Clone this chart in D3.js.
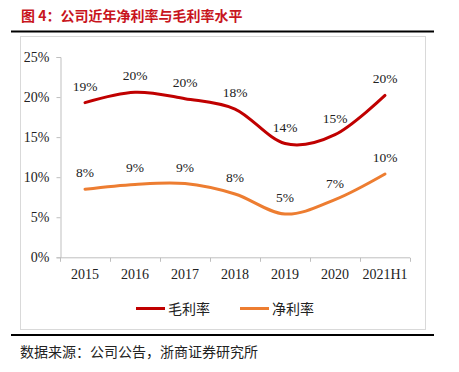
<!DOCTYPE html>
<html>
<head>
<meta charset="utf-8">
<script src="https://cdn.jsdelivr.net/npm/d3@7"></script>
<style>
  body { margin: 0; background: #fff; }
  svg { display: block; }
</style>
</head>
<body>
<div id="chart"></div>
<script>
const years = ["2015", "2016", "2017", "2018", "2019", "2020", "2021H1"];
const grossMargin = [19.3, 20.6, 19.8, 18.5, 14.2, 15.3, 20.2];
const netMargin = [8.5, 9.1, 9.2, 7.9, 5.4, 7.2, 10.4];
const grossLabels = ["19%", "20%", "20%", "18%", "14%", "15%", "20%"];
const netLabels = ["8%", "9%", "9%", "8%", "5%", "7%", "10%"];
const yTicks = [0, 5, 10, 15, 20, 25];

const W = 459, H = 372;
const serif = '"Liberation Serif", "Times New Roman", serif';
const cjk = '"Noto Sans CJK SC", sans-serif';
const red = "#c00000", orange = "#ed7d31", axisCol = "#bfbfbf";

const svg = d3.select("#chart").append("svg")
    .attr("width", W)
    .attr("height", H);

// title + rules
svg.append("text")
    .attr("x", 21).attr("y", 21)
    .attr("fill", "#c8151d")
    .attr("font-family", cjk)
    .attr("font-weight", "bold")
    .attr("font-size", 14)
    .text("图 4：公司近年净利率与毛利率水平");

svg.append("line")
    .attr("x1", 11).attr("x2", 434).attr("y1", 31.5).attr("y2", 31.5)
    .attr("stroke", "#000").attr("stroke-width", 2);
svg.append("rect")
    .attr("x", 20.5).attr("y", 36.5).attr("width", 405).attr("height", 293)
    .attr("fill", "none").attr("stroke", "#d9d9d9").attr("stroke-width", 1);
svg.append("line")
    .attr("x1", 11).attr("x2", 434).attr("y1", 335).attr("y2", 335)
    .attr("stroke", "#000").attr("stroke-width", 2);

// scales
const x = d3.scaleBand().domain(years).range([60, 410]);
const y = d3.scaleLinear().domain([0, 25]).range([257.3, 57]);
const cx = d => x(d) + x.bandwidth() / 2;

// y axis
const yAxis = svg.append("g")
    .attr("transform", "translate(60.5,0)")
    .call(d3.axisLeft(y).tickValues(yTicks).tickSize(4).tickPadding(7)
        .tickFormat(d => d + "%"));
yAxis.select(".domain").attr("stroke", axisCol);
yAxis.selectAll(".tick line").attr("stroke", axisCol);
yAxis.selectAll("text")
    .attr("font-family", serif).attr("font-size", 14).attr("fill", "#222");

// x axis (ticks at band edges)
const xAxis = svg.append("g")
    .attr("transform", "translate(0,257.8)");
xAxis.append("line")
    .attr("x1", 60).attr("x2", 410)
    .attr("stroke", axisCol);
const edges = years.map(d => x(d)).concat([x.range()[1]]);
xAxis.selectAll(".edge").data(edges).join("line")
    .attr("x1", d => d + 0.5).attr("x2", d => d + 0.5)
    .attr("y1", 0).attr("y2", 4)
    .attr("stroke", axisCol);
xAxis.selectAll(".lbl").data(years).join("text")
    .attr("x", d => cx(d))
    .attr("y", 21)
    .attr("text-anchor", "middle")
    .attr("font-family", serif).attr("font-size", 14).attr("fill", "#222")
    .text(d => d);

// lines
const line = d3.line()
    .x((d, i) => cx(years[i]))
    .y(d => y(d))
    .curve(d3.curveCatmullRom.alpha(0));

[[grossMargin, grossLabels, red], [netMargin, netLabels, orange]].forEach(([vals, labs, col]) => {
    svg.append("path")
        .datum(vals)
        .attr("d", line)
        .attr("fill", "none")
        .attr("stroke", col)
        .attr("stroke-width", 3)
        .attr("stroke-linecap", "round");
    svg.append("g").selectAll("text").data(vals).join("text")
        .attr("x", (d, i) => cx(years[i]))
        .attr("y", d => y(d) - 12)
        .attr("text-anchor", "middle")
        .attr("font-family", serif).attr("font-size", 13.5).attr("fill", "#222")
        .text((d, i) => labs[i]);
});

// legend
const legendItems = [["毛利率", red, 136], ["净利率", orange, 240]];
legendItems.forEach(([name, col, lx]) => {
    svg.append("line")
        .attr("x1", lx).attr("x2", lx + 29).attr("y1", 308.5).attr("y2", 308.5)
        .attr("stroke", col).attr("stroke-width", 3);
    svg.append("text")
        .attr("x", lx + 32).attr("y", 313.5)
        .attr("font-family", cjk).attr("font-size", 14).attr("fill", "#222")
        .text(name);
});

// source
svg.append("text")
    .attr("x", 20).attr("y", 356.5)
    .attr("font-family", cjk).attr("font-size", 14).attr("fill", "#222")
    .text("数据来源：公司公告，浙商证券研究所");
</script>
</body>
</html>
